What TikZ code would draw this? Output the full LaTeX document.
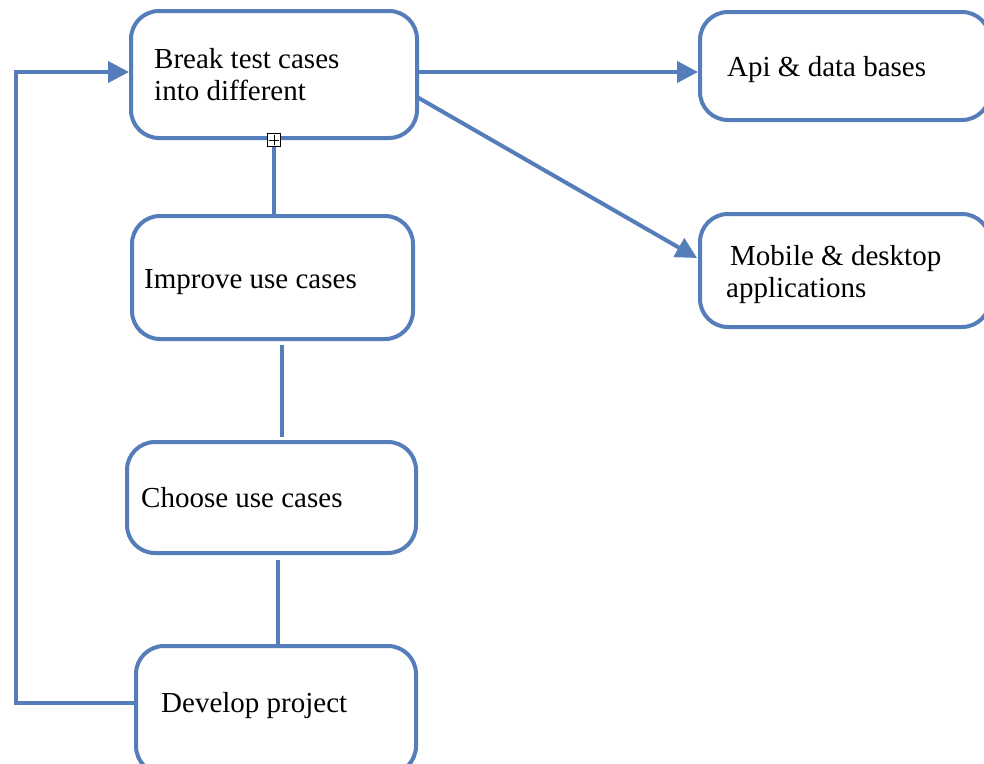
\documentclass[tikz,border=0pt]{standalone}
\usepackage{fontspec}
\setmainfont{Liberation Serif}
\usetikzlibrary{arrows.meta}
\definecolor{wblue}{RGB}{84,125,185}
\tikzset{
  box/.style={draw=wblue, line width=4pt, rounded corners=28pt, fill=white, inner sep=0pt},
  lbl/.style={anchor=base west, inner sep=0pt, font=\fontsize{29}{32}\selectfont, align=left, text=black},
  conn/.style={draw=wblue, line width=4pt},
  arr/.style={conn, -{Triangle[length=21pt,width=21pt]}},
}
\begin{document}
\begin{tikzpicture}[x=1pt,y=-1pt]
\useasboundingbox (0,0) rectangle (984,763);
\clip (0,0) rectangle (984,763);
\fill[white] (0,0) rectangle (984,763);
% boxes
\node[box, minimum width=286pt, minimum height=127pt] (brk) at (274,74.5) {};
\node[box, minimum width=290pt, minimum height=108pt] (api) at (845,66) {};
\node[box, minimum width=290pt, minimum height=113pt] (mob) at (845,270.5) {};
\node[box, minimum width=281pt, minimum height=123pt] (imp) at (272.5,277.5) {};
\node[box, minimum width=289pt, minimum height=111pt] (cho) at (271.5,497.5) {};
\node[box, minimum width=280pt, minimum height=128pt] (dev) at (276,710) {};
% labels (base of a two-line label is its last line)
\node[lbl] (tbrk) at (154,100) {Break test cases\\into different};
\node[lbl] (tapi) at (727,76) {Api \& data bases};
\node[lbl] (tmob) at (726,297) {\hspace{4pt}Mobile \& desktop\\applications};
\node[lbl] (timp) at (144,288) {Improve use cases};
\node[lbl] (tcho) at (141,507) {Choose use cases};
\node[lbl] (tdev) at (161,712) {Develop project};
% connectors
\coordinate (b1) at (417,72);
\coordinate (a1) at (698,72);
\coordinate (b2) at (417,97);
\coordinate (m1) at (697,258);
\draw[arr] (b1) -- (a1);
\draw[arr] (b2) -- (m1);
\node[draw=black, line width=0.8pt, fill=white, minimum size=13pt, inner sep=0pt] (mk) at (274,140) {};
\draw[black, line width=0.8pt] ([yshift=5pt]mk.center) -- ([yshift=-5pt]mk.center) ([xshift=-5pt]mk.center) -- ([xshift=5pt]mk.center);
\draw[conn] (mk.south) -- (mk.south |- imp.north);
\coordinate (i1) at (282,345);
\coordinate (c1) at (282,437);
\draw[conn] (i1) -- (c1);
\coordinate (c2) at (278,560);
\coordinate (d1) at (278,645);
\draw[conn] (c2) -- (d1);
\coordinate (d2) at (136,703);
\coordinate (l1) at (16,703);
\coordinate (l2) at (16,72);
\coordinate (bl) at (129,72);
\draw[arr] (d2) -- (l1) -- (l2) -- (bl);
\end{tikzpicture}
\end{document}
